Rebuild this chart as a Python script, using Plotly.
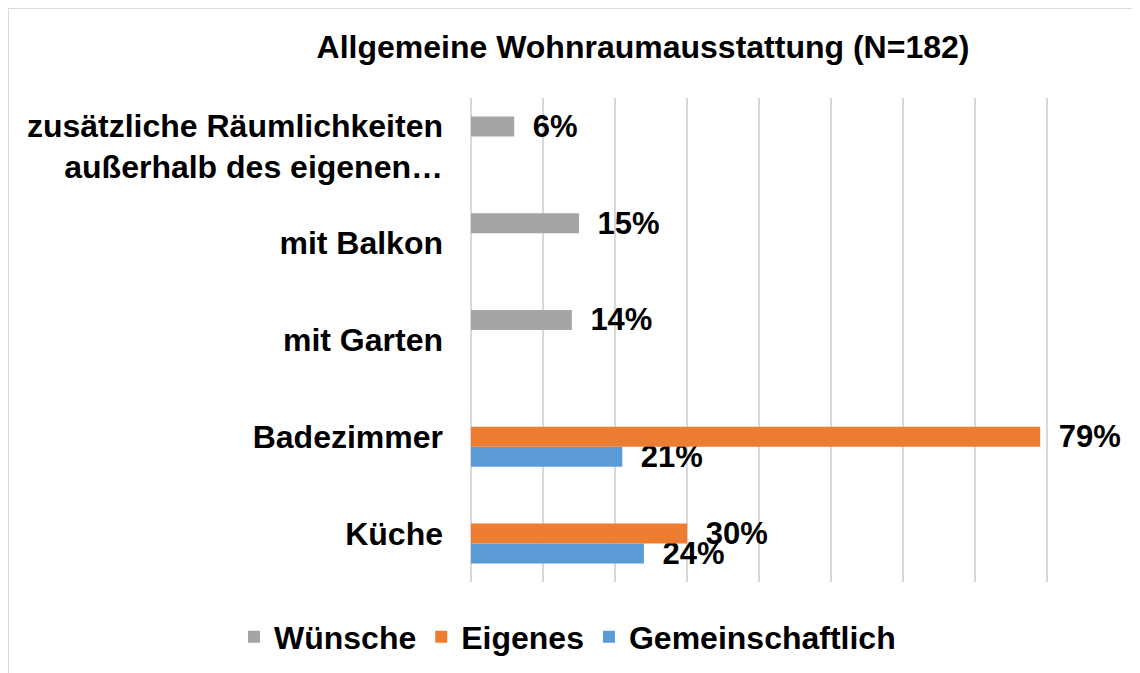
import plotly.graph_objects as go

# Data
categories = [
    "Küche",
    "Badezimmer",
    "mit Garten",
    "mit Balkon",
    "zusätzliche Räumlichkeiten<br>außerhalb des eigenen…",
]
wuensche = [None, None, 0.14, 0.15, 0.06]
eigenes = [0.30, 0.79, None, None, None]
gemeinschaftlich = [0.24, 0.21, None, None, None]

FONT = "Arial, 'Liberation Sans', sans-serif"
label_font = dict(family=FONT, size=31, color="#000000", weight="bold")

fig = go.Figure()

# order of addition: bottom slot first (horizontal grouped bars)
series = [
    ("Gemeinschaftlich", gemeinschaftlich, "#5b9bd5"),
    ("Eigenes", eigenes, "#ed7d31"),
    ("Wünsche", wuensche, "#a5a5a5"),
]
for name, vals, color in series:
    fig.add_trace(go.Bar(
        name=name,
        y=categories,
        x=vals,
        orientation="h",
        marker=dict(color=color, line=dict(width=0)),
        texttemplate="\u2002%{x:.0%}",
        textposition="outside",
        textfont=label_font,
        constraintext="none",
        cliponaxis=False,
        hoverinfo="skip",
    ))

# the page adds an 8px body margin, so figure coords = screen coords - 8
W, H = 1140, 673
L, R, T, B = 463, 28, 90, 99
PW, PH = W - L - R, H - T - B

fig.update_layout(
    width=W,
    height=H,
    margin=dict(l=L, r=R, t=T, b=B, autoexpand=False),
    paper_bgcolor="white",
    plot_bgcolor="white",
    barmode="group",
    bargap=0.38,
    bargroupgap=0,
    font=dict(family=FONT, color="#000000"),
    title=dict(
        text="<b>Allgemeine Wohnraumausstattung (N=182)</b>",
        font=dict(family=FONT, size=32, color="#000000"),
        xref="container",
        yref="container",
        x=635 / W,
        y=1 - 39 / H,
        xanchor="center",
        yanchor="middle",
    ),
    xaxis=dict(
        range=[0, 0.9008],
        dtick=0.1,
        tick0=0,
        showticklabels=False,
        showgrid=True,
        gridcolor="#d9d9d9",
        gridwidth=1.5,
        zeroline=True,
        zerolinecolor="#d9d9d9",
        zerolinewidth=1.5,
        showline=False,
        fixedrange=True,
    ),
    yaxis=dict(
        type="category",
        categoryorder="array",
        categoryarray=categories,
        showgrid=False,
        showline=False,
        zeroline=False,
        ticks="",
        ticklabelstandoff=27,
        tickfont=dict(family=FONT, size=32, color="#000000", weight="bold"),
        fixedrange=True,
    ),
    legend=dict(
        orientation="h",
        traceorder="reversed",
        xref="paper",
        yref="paper",
        x=(226 - L) / PW,
        y=(H - B - 629) / PH,
        xanchor="left",
        yanchor="middle",
        font=dict(family=FONT, size=32, color="#000000", weight="bold"),
        itemclick=False,
        itemdoubleclick=False,
    ),
    showlegend=True,
    shapes=[
        dict(
            type="rect",
            xref="paper",
            yref="paper",
            x0=-L / PW,
            x1=1 + (R + 20) / PW,
            y0=-(B + 20) / PH,
            y1=1 + T / PH,
            line=dict(color="#d9d9d9", width=2),
            fillcolor="rgba(0,0,0,0)",
            layer="below",
        )
    ],
)

fig.write_html("out.html")
